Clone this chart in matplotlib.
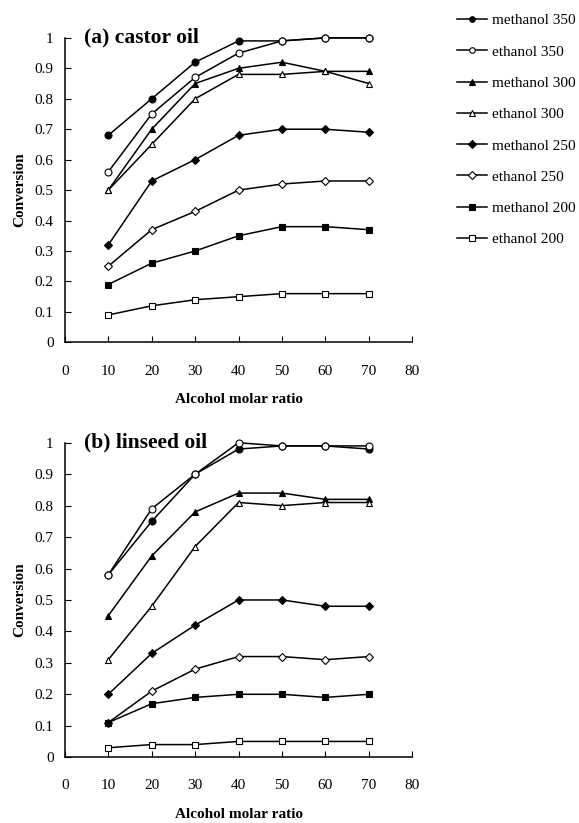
import matplotlib
matplotlib.use("Agg")
import matplotlib.pyplot as plt

ratio = [10, 20, 30, 40, 50, 60, 70]
labels = ["methanol 350", "ethanol 350", "methanol 300", "ethanol 300",
          "methanol 250", "ethanol 250", "methanol 200", "ethanol 200"]

# (a) castor oil
castor_m350 = [0.68, 0.80, 0.92, 0.99, 0.99, 1.00, 1.00]
castor_e350 = [0.56, 0.75, 0.87, 0.95, 0.99, 1.00, 1.00]
castor_m300 = [0.50, 0.70, 0.85, 0.90, 0.92, 0.89, 0.89]
castor_e300 = [0.50, 0.65, 0.80, 0.88, 0.88, 0.89, 0.85]
castor_m250 = [0.32, 0.53, 0.60, 0.68, 0.70, 0.70, 0.69]
castor_e250 = [0.25, 0.37, 0.43, 0.50, 0.52, 0.53, 0.53]
castor_m200 = [0.19, 0.26, 0.30, 0.35, 0.38, 0.38, 0.37]
castor_e200 = [0.09, 0.12, 0.14, 0.15, 0.16, 0.16, 0.16]

# (b) linseed oil
linseed_m350 = [0.58, 0.75, 0.90, 0.98, 0.99, 0.99, 0.98]
linseed_e350 = [0.58, 0.79, 0.90, 1.00, 0.99, 0.99, 0.99]
linseed_m300 = [0.45, 0.64, 0.78, 0.84, 0.84, 0.82, 0.82]
linseed_e300 = [0.31, 0.48, 0.67, 0.81, 0.80, 0.81, 0.81]
linseed_m250 = [0.20, 0.33, 0.42, 0.50, 0.50, 0.48, 0.48]
linseed_e250 = [0.11, 0.21, 0.28, 0.32, 0.32, 0.31, 0.32]
linseed_m200 = [0.11, 0.17, 0.19, 0.20, 0.20, 0.19, 0.20]
linseed_e200 = [0.03, 0.04, 0.04, 0.05, 0.05, 0.05, 0.05]

castor = [castor_m350, castor_e350, castor_m300, castor_e300,
          castor_m250, castor_e250, castor_m200, castor_e200]
linseed = [linseed_m350, linseed_e350, linseed_m300, linseed_e300,
           linseed_m250, linseed_e250, linseed_m200, linseed_e200]

# marker style per series: (marker, filled)
styles = [("o", True), ("o", False), ("^", True), ("^", False),
          ("D", True), ("D", False), ("s", True), ("s", False)]

plt.rcParams["font.family"] = ["Liberation Serif", "DejaVu Serif"]

fig = plt.figure(figsize=(5.79, 8.23), dpi=100)
ax1 = fig.add_axes([0.112, 0.584, 0.600, 0.370])
ax2 = fig.add_axes([0.112, 0.080, 0.600, 0.382])

def draw(ax, data, title):
    lines = []
    for vals, lab, (mk, filled) in zip(data, labels, styles):
        ms = 5 if mk != "D" else 4.5
        ln, = ax.plot(ratio, vals, color="black", lw=1.1, marker=mk, ms=ms,
                      mfc="black" if filled else "white", mec="black", mew=0.8,
                      label=lab, clip_on=False)
        lines.append(ln)
    ax.set_xlim(0, 80)
    ax.set_ylim(0, 1)
    ax.set_xticks(range(0, 81, 10))
    ax.set_yticks([i / 10 for i in range(11)])
    ax.set_yticklabels(["0"] + ["%.1f" % (i / 10) for i in range(1, 10)] + ["1"])
    ax.spines["top"].set_visible(False)
    ax.spines["right"].set_visible(False)
    ax.spines["left"].set_linewidth(1.1)
    ax.spines["bottom"].set_linewidth(1.1)
    ax.tick_params(labelsize=11, direction="in", length=4)
    ax.tick_params(axis="x", pad=16)
    ax.tick_params(axis="y", pad=8)
    ax.set_xlabel("Alcohol molar ratio", fontsize=11, fontweight="bold", labelpad=11)
    ax.set_ylabel("Conversion", fontsize=11, fontweight="bold", labelpad=6)
    ax.text(0.055, 1.0, title, transform=ax.transAxes, fontsize=15.5,
            fontweight="bold", va="center", ha="left")
    return lines

lines = draw(ax1, castor, "(a) castor oil")
draw(ax2, linseed, "(b) linseed oil")

fig.legend(handles=lines, loc="upper left", bbox_to_anchor=(0.765, 1.0),
           frameon=False, fontsize=11, labelspacing=1.15, handlelength=2.0,
           handletextpad=0.3, markerscale=0.8)

fig.savefig("out.png", dpi=100)
